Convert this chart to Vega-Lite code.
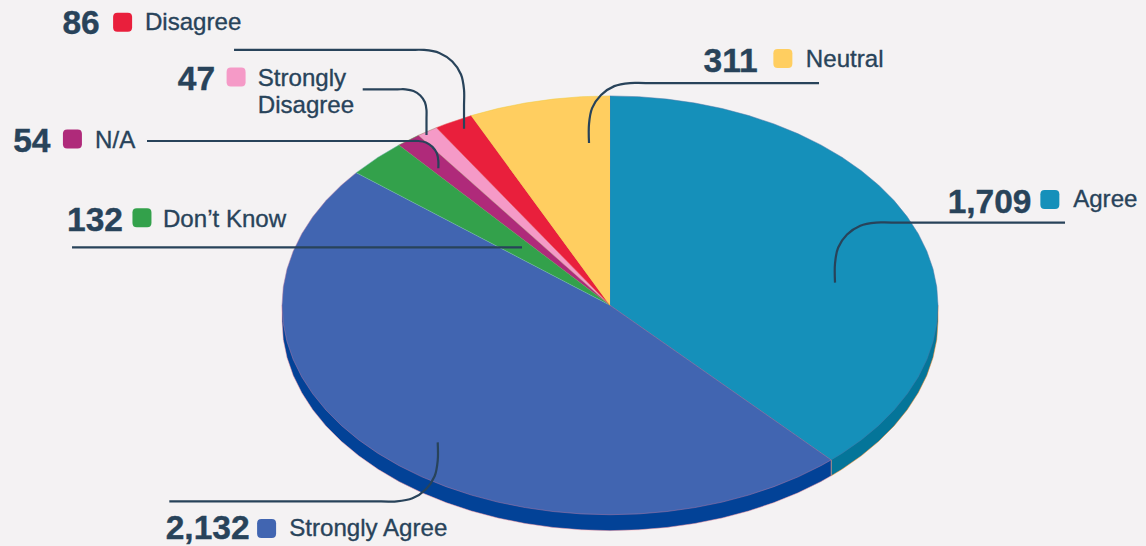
{
  "$schema": "https://vega.github.io/schema/vega-lite/v6.json",
  "autosize": {"type": "fit", "contains": "padding"},
  "width": 1146,
  "height": 546,
  "padding": 0,
  "background": "#f4f2f3",
  "view": {"stroke": null},
  "datasets": {
    "rim": [
      {"slice":"Agree side","i":0,"x":100,"y":0},{"slice":"Agree side","i":1,"x":100,"y":-4.88},{"slice":"Agree side","i":2,"x":99.62,"y":-10.48},{"slice":"Agree side","i":3,"x":98.48,"y":-16.03},{"slice":"Agree side","i":4,"x":96.59,"y":-21.49},{"slice":"Agree side","i":5,"x":93.97,"y":-26.84},{"slice":"Agree side","i":6,"x":90.63,"y":-32.01},{"slice":"Agree side","i":7,"x":86.6,"y":-36.98},{"slice":"Agree side","i":8,"x":81.92,"y":-41.7},{"slice":"Agree side","i":9,"x":76.6,"y":-46.15},{"slice":"Agree side","i":10,"x":70.71,"y":-50.28},{"slice":"Agree side","i":11,"x":67.42,"y":-52.29},{"slice":"Agree side","i":12,"x":67.42,"y":-47.41},{"slice":"Agree side","i":13,"x":0,"y":0},
      {"slice":"Strongly Agree side","i":0,"x":67.42,"y":-47.41},{"slice":"Strongly Agree side","i":1,"x":67.42,"y":-52.29},{"slice":"Strongly Agree side","i":2,"x":64.28,"y":-54.06},{"slice":"Strongly Agree side","i":3,"x":57.36,"y":-57.47},{"slice":"Strongly Agree side","i":4,"x":50,"y":-60.48},{"slice":"Strongly Agree side","i":5,"x":42.26,"y":-63.06},{"slice":"Strongly Agree side","i":6,"x":34.2,"y":-65.21},{"slice":"Strongly Agree side","i":7,"x":25.88,"y":-66.89},{"slice":"Strongly Agree side","i":8,"x":17.36,"y":-68.1},{"slice":"Strongly Agree side","i":9,"x":8.72,"y":-68.84},{"slice":"Strongly Agree side","i":10,"x":0,"y":-69.08},{"slice":"Strongly Agree side","i":11,"x":-8.72,"y":-68.84},{"slice":"Strongly Agree side","i":12,"x":-17.36,"y":-68.1},{"slice":"Strongly Agree side","i":13,"x":-25.88,"y":-66.89},{"slice":"Strongly Agree side","i":14,"x":-34.2,"y":-65.21},{"slice":"Strongly Agree side","i":15,"x":-42.26,"y":-63.06},{"slice":"Strongly Agree side","i":16,"x":-50,"y":-60.48},{"slice":"Strongly Agree side","i":17,"x":-57.36,"y":-57.47},{"slice":"Strongly Agree side","i":18,"x":-64.28,"y":-54.06},{"slice":"Strongly Agree side","i":19,"x":-70.71,"y":-50.28},{"slice":"Strongly Agree side","i":20,"x":-76.6,"y":-46.15},{"slice":"Strongly Agree side","i":21,"x":-81.92,"y":-41.7},{"slice":"Strongly Agree side","i":22,"x":-86.6,"y":-36.98},{"slice":"Strongly Agree side","i":23,"x":-90.63,"y":-32.01},{"slice":"Strongly Agree side","i":24,"x":-93.97,"y":-26.84},{"slice":"Strongly Agree side","i":25,"x":-96.59,"y":-21.49},{"slice":"Strongly Agree side","i":26,"x":-98.48,"y":-16.03},{"slice":"Strongly Agree side","i":27,"x":-99.62,"y":-10.48},{"slice":"Strongly Agree side","i":28,"x":-100,"y":-4.88},{"slice":"Strongly Agree side","i":29,"x":-100,"y":0},{"slice":"Strongly Agree side","i":30,"x":0,"y":0}
    ],
    "wedges": [
      {"slice":"Agree","i":0,"x":0,"y":0},{"slice":"Agree","i":1,"x":0,"y":64.2},{"slice":"Agree","i":2,"x":8.72,"y":63.96},{"slice":"Agree","i":3,"x":17.36,"y":63.22},{"slice":"Agree","i":4,"x":25.88,"y":62.01},{"slice":"Agree","i":5,"x":34.2,"y":60.33},{"slice":"Agree","i":6,"x":42.26,"y":58.18},{"slice":"Agree","i":7,"x":50,"y":55.6},{"slice":"Agree","i":8,"x":57.36,"y":52.59},{"slice":"Agree","i":9,"x":64.28,"y":49.18},{"slice":"Agree","i":10,"x":70.71,"y":45.4},{"slice":"Agree","i":11,"x":76.6,"y":41.27},{"slice":"Agree","i":12,"x":81.92,"y":36.82},{"slice":"Agree","i":13,"x":86.6,"y":32.1},{"slice":"Agree","i":14,"x":90.63,"y":27.13},{"slice":"Agree","i":15,"x":93.97,"y":21.96},{"slice":"Agree","i":16,"x":96.59,"y":16.61},{"slice":"Agree","i":17,"x":98.48,"y":11.15},{"slice":"Agree","i":18,"x":99.62,"y":5.6},{"slice":"Agree","i":19,"x":100,"y":0},{"slice":"Agree","i":20,"x":99.62,"y":-5.6},{"slice":"Agree","i":21,"x":98.48,"y":-11.15},{"slice":"Agree","i":22,"x":96.59,"y":-16.61},{"slice":"Agree","i":23,"x":93.97,"y":-21.96},{"slice":"Agree","i":24,"x":90.63,"y":-27.13},{"slice":"Agree","i":25,"x":86.6,"y":-32.1},{"slice":"Agree","i":26,"x":81.92,"y":-36.82},{"slice":"Agree","i":27,"x":76.6,"y":-41.27},{"slice":"Agree","i":28,"x":70.71,"y":-45.4},{"slice":"Agree","i":29,"x":67.42,"y":-47.41},
      {"slice":"Strongly Agree","i":0,"x":0,"y":0},{"slice":"Strongly Agree","i":1,"x":67.42,"y":-47.41},{"slice":"Strongly Agree","i":2,"x":64.28,"y":-49.18},{"slice":"Strongly Agree","i":3,"x":57.36,"y":-52.59},{"slice":"Strongly Agree","i":4,"x":50,"y":-55.6},{"slice":"Strongly Agree","i":5,"x":42.26,"y":-58.18},{"slice":"Strongly Agree","i":6,"x":34.2,"y":-60.33},{"slice":"Strongly Agree","i":7,"x":25.88,"y":-62.01},{"slice":"Strongly Agree","i":8,"x":17.36,"y":-63.22},{"slice":"Strongly Agree","i":9,"x":8.72,"y":-63.96},{"slice":"Strongly Agree","i":10,"x":0,"y":-64.2},{"slice":"Strongly Agree","i":11,"x":-8.72,"y":-63.96},{"slice":"Strongly Agree","i":12,"x":-17.36,"y":-63.22},{"slice":"Strongly Agree","i":13,"x":-25.88,"y":-62.01},{"slice":"Strongly Agree","i":14,"x":-34.2,"y":-60.33},{"slice":"Strongly Agree","i":15,"x":-42.26,"y":-58.18},{"slice":"Strongly Agree","i":16,"x":-50,"y":-55.6},{"slice":"Strongly Agree","i":17,"x":-57.36,"y":-52.59},{"slice":"Strongly Agree","i":18,"x":-64.28,"y":-49.18},{"slice":"Strongly Agree","i":19,"x":-70.71,"y":-45.4},{"slice":"Strongly Agree","i":20,"x":-76.6,"y":-41.27},{"slice":"Strongly Agree","i":21,"x":-81.92,"y":-36.82},{"slice":"Strongly Agree","i":22,"x":-86.6,"y":-32.1},{"slice":"Strongly Agree","i":23,"x":-90.63,"y":-27.13},{"slice":"Strongly Agree","i":24,"x":-93.97,"y":-21.96},{"slice":"Strongly Agree","i":25,"x":-96.59,"y":-16.61},{"slice":"Strongly Agree","i":26,"x":-98.48,"y":-11.15},{"slice":"Strongly Agree","i":27,"x":-99.62,"y":-5.6},{"slice":"Strongly Agree","i":28,"x":-100,"y":0},{"slice":"Strongly Agree","i":29,"x":-99.62,"y":5.6},{"slice":"Strongly Agree","i":30,"x":-98.48,"y":11.15},{"slice":"Strongly Agree","i":31,"x":-96.59,"y":16.61},{"slice":"Strongly Agree","i":32,"x":-93.97,"y":21.96},{"slice":"Strongly Agree","i":33,"x":-90.63,"y":27.13},{"slice":"Strongly Agree","i":34,"x":-86.6,"y":32.1},{"slice":"Strongly Agree","i":35,"x":-81.92,"y":36.82},{"slice":"Strongly Agree","i":36,"x":-77.38,"y":40.66},
      {"slice":"Don't Know","i":0,"x":0,"y":0},{"slice":"Don't Know","i":1,"x":-77.38,"y":40.66},{"slice":"Don't Know","i":2,"x":-70.71,"y":45.4},{"slice":"Don't Know","i":3,"x":-64.4,"y":49.11},
      {"slice":"N/A","i":0,"x":0,"y":0},{"slice":"N/A","i":1,"x":-64.4,"y":49.11},{"slice":"N/A","i":2,"x":-58.41,"y":52.11},
      {"slice":"Strongly Disagree","i":0,"x":0,"y":0},{"slice":"Strongly Disagree","i":1,"x":-58.41,"y":52.11},{"slice":"Strongly Disagree","i":2,"x":-52.93,"y":54.47},
      {"slice":"Disagree","i":0,"x":0,"y":0},{"slice":"Disagree","i":1,"x":-52.93,"y":54.47},{"slice":"Disagree","i":2,"x":-50,"y":55.6},{"slice":"Disagree","i":3,"x":-42.32,"y":58.16},
      {"slice":"Neutral","i":0,"x":0,"y":0},{"slice":"Neutral","i":1,"x":-42.32,"y":58.16},{"slice":"Neutral","i":2,"x":-34.2,"y":60.33},{"slice":"Neutral","i":3,"x":-25.88,"y":62.01},{"slice":"Neutral","i":4,"x":-17.36,"y":63.22},{"slice":"Neutral","i":5,"x":-8.72,"y":63.96},{"slice":"Neutral","i":6,"x":0,"y":64.2}
    ],
    "leaders": [
      {"slice":"Disagree","i":0,"x":-114.63,"y":78.29},{"slice":"Disagree","i":1,"x":-61.71,"y":78.29},{"slice":"Disagree","i":2,"x":-56.71,"y":78.29},{"slice":"Disagree","i":3,"x":-52.04,"y":77.38},{"slice":"Disagree","i":4,"x":-48.08,"y":74.73},{"slice":"Disagree","i":5,"x":-45.43,"y":70.76},{"slice":"Disagree","i":6,"x":-44.51,"y":66.1},{"slice":"Disagree","i":7,"x":-44.51,"y":61.1},{"slice":"Disagree","i":8,"x":-44.51,"y":54.12},
      {"slice":"Strongly Disagree","i":0,"x":-75.4,"y":66.22},{"slice":"Strongly Disagree","i":1,"x":-64.8,"y":66.22},{"slice":"Strongly Disagree","i":2,"x":-62.35,"y":66.22},{"slice":"Strongly Disagree","i":3,"x":-59.91,"y":65.73},{"slice":"Strongly Disagree","i":4,"x":-57.84,"y":64.33},{"slice":"Strongly Disagree","i":5,"x":-56.43,"y":62.26},{"slice":"Strongly Disagree","i":6,"x":-55.95,"y":59.82},{"slice":"Strongly Disagree","i":7,"x":-55.95,"y":57.4},{"slice":"Strongly Disagree","i":8,"x":-55.95,"y":52.2},
      {"slice":"N/A","i":0,"x":-141.16,"y":50.37},{"slice":"N/A","i":1,"x":-60.9,"y":50.37},{"slice":"N/A","i":2,"x":-58.45,"y":50.37},{"slice":"N/A","i":3,"x":-56.1,"y":49.91},{"slice":"N/A","i":4,"x":-54.15,"y":48.57},{"slice":"N/A","i":5,"x":-52.8,"y":46.62},{"slice":"N/A","i":6,"x":-52.35,"y":44.27},{"slice":"N/A","i":7,"x":-52.35,"y":42.01},
      {"slice":"Don't Know","i":0,"x":-164.02,"y":17.74},{"slice":"Don't Know","i":1,"x":-26.83,"y":17.74},
      {"slice":"Neutral","i":0,"x":63.72,"y":68.14},{"slice":"Neutral","i":1,"x":10.9,"y":68.14},{"slice":"Neutral","i":2,"x":6.1,"y":68.14},{"slice":"Neutral","i":3,"x":1.31,"y":67.2},{"slice":"Neutral","i":4,"x":-2.74,"y":64.48},{"slice":"Neutral","i":5,"x":-5.46,"y":60.43},{"slice":"Neutral","i":6,"x":-6.4,"y":55.64},{"slice":"Neutral","i":7,"x":-6.4,"y":49.76},
      {"slice":"Agree","i":0,"x":138.72,"y":25.37},{"slice":"Agree","i":1,"x":85.9,"y":25.37},{"slice":"Agree","i":2,"x":81.1,"y":25.37},{"slice":"Agree","i":3,"x":76.31,"y":24.42},{"slice":"Agree","i":4,"x":72.26,"y":21.71},{"slice":"Agree","i":5,"x":69.54,"y":17.65},{"slice":"Agree","i":6,"x":68.6,"y":12.87},{"slice":"Agree","i":7,"x":68.6,"y":6.95},
      {"slice":"Strongly Agree","i":0,"x":-52.53,"y":-42.01},{"slice":"Strongly Agree","i":1,"x":-52.53,"y":-47.62},{"slice":"Strongly Agree","i":2,"x":-53.48,"y":-52.41},{"slice":"Strongly Agree","i":3,"x":-56.19,"y":-56.46},{"slice":"Strongly Agree","i":4,"x":-60.24,"y":-59.18},{"slice":"Strongly Agree","i":5,"x":-65.03,"y":-60.12},{"slice":"Strongly Agree","i":6,"x":-69.8,"y":-60.12},{"slice":"Strongly Agree","i":7,"x":-134.36,"y":-60.12}
    ],
    "labels": [
      {"slice":"Disagree","label":"Disagree","value":86,"x":-148.6,"y":86.76,"valueX":-155.6,"valueY":83.26,"labelX":-141.8,"labelY":84.46},
      {"slice":"Strongly Disagree","label":"Strongly\nDisagree","value":47,"x":-114.0,"y":69.96,"valueX":-120.4,"valueY":65.86,"labelX":-107.4,"labelY":67.36},
      {"slice":"N/A","label":"N/A","value":54,"x":-163.9,"y":50.96,"valueX":-170.6,"valueY":46.96,"labelX":-157.0,"labelY":48.36},
      {"slice":"Don't Know","label":"Don’t Know","value":132,"x":-142.7,"y":26.85,"valueX":-148.5,"valueY":22.86,"labelX":-136.3,"labelY":24.05},
      {"slice":"Neutral","label":"Neutral","value":311,"x":52.7,"y":75.66,"valueX":45.0,"valueY":71.66,"labelX":59.7,"labelY":73.16},
      {"slice":"Agree","label":"Agree","value":1709,"x":134.1,"y":32.46,"valueX":128.5,"valueY":28.35,"labelX":141.2,"labelY":30.06},
      {"slice":"Strongly Agree","label":"Strongly Agree","value":2132,"x":-104.7,"y":-68.45,"valueX":-109.9,"valueY":-71.65,"labelX":-97.8,"labelY":-70.75}
    ]
  },
  "layer": [
    {
      "description": "Rim of the disc, under the top face",
      "data": {"name": "rim"},
      "mark": {"type": "line", "filled": true, "strokeWidth": 0.5},
      "encoding": {
        "x": {"field": "x", "type": "quantitative", "axis": null, "scale": {"domain": [-185.98, 163.41], "nice": false, "zero": false}},
        "y": {"field": "y", "type": "quantitative", "axis": null, "scale": {"domain": [-72.87, 93.6], "nice": false, "zero": false}},
        "order": {"field": "i", "type": "quantitative"},
        "color": {"field": "slice", "type": "nominal", "legend": null},
        "stroke": {"field": "slice", "type": "nominal", "legend": null}
      }
    },
    {
      "description": "Top face: one wedge per answer, squashed into an ellipse",
      "data": {"name": "wedges"},
      "mark": {"type": "line", "filled": true, "strokeWidth": 0.5},
      "encoding": {
        "x": {"field": "x", "type": "quantitative", "axis": null},
        "y": {"field": "y", "type": "quantitative", "axis": null},
        "order": {"field": "i", "type": "quantitative"},
        "color": {"field": "slice", "type": "nominal", "legend": null},
        "stroke": {"field": "slice", "type": "nominal", "legend": null}
      }
    },
    {
      "description": "Leader lines with rounded elbows",
      "data": {"name": "leaders"},
      "mark": {"type": "line", "color": "#28435a", "strokeWidth": 2.2, "interpolate": "catmull-rom", "strokeCap": "butt"},
      "encoding": {
        "x": {"field": "x", "type": "quantitative", "axis": null},
        "y": {"field": "y", "type": "quantitative", "axis": null},
        "order": {"field": "i", "type": "quantitative"},
        "detail": {"field": "slice", "type": "nominal"}
      }
    },
    {
      "description": "Rounded colour chips",
      "data": {"name": "labels"},
      "mark": {"type": "point", "filled": true, "opacity": 1, "size": 361, "strokeWidth": 0, "shape": "M-0.55,-1H0.55Q1,-1 1,-0.55V0.55Q1,1 0.55,1H-0.55Q-1,1 -1,0.55V-0.55Q-1,-1 -0.55,-1Z"},
      "encoding": {
        "x": {"field": "x", "type": "quantitative", "axis": null},
        "y": {"field": "y", "type": "quantitative", "axis": null},
        "color": {
          "field": "slice", "type": "nominal", "legend": null,
          "scale": {
            "domain": ["Agree", "Strongly Agree", "Don't Know", "N/A", "Strongly Disagree", "Disagree", "Neutral", "Agree side", "Strongly Agree side"],
            "range": ["#1590ba", "#4165b1", "#33a14b", "#af2a7a", "#f59ac7", "#e91f3c", "#ffce60", "#047599", "#024297"]
          }
        }
      }
    },
    {
      "description": "Answer counts",
      "data": {"name": "labels"},
      "mark": {"type": "text", "font": "Liberation Sans", "fontWeight": "bold", "fontSize": 33.5, "align": "right", "baseline": "alphabetic", "color": "#28435a", "stroke": "#28435a", "strokeWidth": 0.4},
      "encoding": {
        "x": {"field": "valueX", "type": "quantitative", "axis": null},
        "y": {"field": "valueY", "type": "quantitative", "axis": null},
        "text": {"field": "value", "type": "quantitative", "format": ","}
      }
    },
    {
      "description": "Answer names",
      "data": {"name": "labels"},
      "mark": {"type": "text", "font": "Liberation Sans", "fontSize": 24.1, "align": "left", "baseline": "alphabetic", "lineBreak": "\n", "lineHeight": 27, "color": "#28435a", "stroke": "#28435a", "strokeWidth": 0.35},
      "encoding": {
        "x": {"field": "labelX", "type": "quantitative", "axis": null},
        "y": {"field": "labelY", "type": "quantitative", "axis": null},
        "text": {"field": "label", "type": "nominal"}
      }
    }
  ],
  "config": {"style": {"cell": {"stroke": null}}}
}
